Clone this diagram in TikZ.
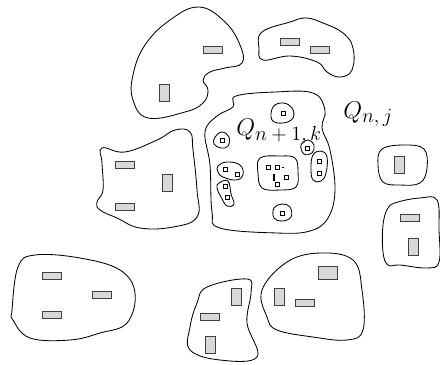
\documentclass[tikz,border=0pt]{standalone}
\usetikzlibrary{positioning}

\newcommand{\subsz}[1]{\mbox{\fontsize{14}{16}\selectfont$#1$}}

\begin{document}
\begin{tikzpicture}[
    x=0.025cm, y=-0.025cm,
    region/.style={draw=black, line width=0.6pt},
    hbar/.style={rectangle, draw=black!75, fill=black!15, line width=0.5pt, inner sep=0pt, minimum width=0.48cm, minimum height=0.18cm},
    vbar/.style={rectangle, draw=black!75, fill=black!15, line width=0.5pt, inner sep=0pt, minimum width=0.25cm, minimum height=0.42cm},
    cell/.style={rectangle, draw=black, fill=white, line width=0.45pt, inner sep=0pt, minimum size=0.1cm},
    lbl/.style={font=\fontsize{17}{20}\selectfont, inner sep=0pt, anchor=base west}
]
\useasboundingbox (0,0) rectangle (440,364);

% Top left region
\draw[region] plot[smooth cycle, tension=0.7] coordinates {(199,7) (225,22) (240,45) (242,63) (225,68) (210,72) (203,80) (208,90) (203,103) (185,112) (148,118) (133,100) (133,75) (145,45) (170,20)};
\node[hbar] (a1) at (213,50) {};
\node[vbar] (a2) at (164,93) {};

% Top right region
\draw[region] plot[smooth cycle, tension=0.7] coordinates {(262,32) (290,22) (306,18) (323,23) (343,33) (353,48) (352,70) (340,77) (327,72) (317,62) (290,56) (263,60) (259,48)};
\node[hbar] (b1) at (290,42) {};
\node[hbar] (b2) at (320,50) {};

% Left middle region
\draw[region] plot[smooth cycle, tension=0.7] coordinates {(102,148) (125,152) (157,140) (175,130) (190,132) (193,150) (197,190) (197,217) (173,227) (140,228) (117,218) (100,210) (97,202) (103,190) (102,163)};
\node[hbar] (d1) at (125,165) {};
\node[vbar] (d2) at (167,183) {};
\node[hbar] (d3) at (125,207) {};

% Central region Q_{n+1,k}
\draw[region] plot[smooth cycle, tension=0.65] coordinates {(236,96) (275,92) (313,93) (325,110) (322,128) (330,150) (335,190) (328,218) (310,231) (277,233) (220,228) (212,212) (210,165) (205,132) (217,116) (233,107)};
\node[lbl] (qk) at (236,135) {$Q_{\subsz{n+1,k}}$};
\node[lbl] (qj) at (343,118) {$Q_{\subsz{n,j}}$};

% Sub-regions
\draw[region] plot[smooth cycle, tension=0.7] coordinates {(273,107) (283,103) (292,108) (293,118) (283,123) (272,120)};
\node[cell] (c1) at (283,113) {};
\draw[region] plot[smooth cycle, tension=0.7] coordinates {(215,137) (222,132) (229,137) (228,146) (221,148) (214,144)};
\node[cell] (c2) at (222,140) {};
\draw[region] plot[smooth cycle, tension=0.7] coordinates {(301,145) (308,140) (314,145) (312,153) (304,154)};
\node[cell] (c3) at (307,148) {};
\draw[region] plot[smooth cycle, tension=0.7] coordinates {(218,166) (227,162) (240,165) (243,175) (236,180) (223,177) (218,172)};
\node[cell] (c4) at (225,169) {};
\node[cell] (c5) at (237,174) {};
\draw[region] plot[smooth cycle, tension=0.7] coordinates {(219,183) (228,181) (231,194) (234,204) (227,206) (221,197) (217,188)};
\node[cell] (c6) at (225,186) {};
\node[cell] (c7) at (227,197) {};
\draw[region] plot[smooth cycle, tension=0.7] coordinates {(313,155) (321,151) (327,157) (326,173) (321,181) (313,180) (311,168)};
\node[cell] (c8) at (319,161) {};
\node[cell] (c9) at (319,173) {};
\draw[region] plot[smooth cycle, tension=0.65] coordinates {(260,158) (280,156) (295,158) (298,172) (296,187) (280,190) (262,188) (258,173)};
\node[cell] (c10) at (268,167) {};
\node[cell] (c11) at (277,167) {};
\draw[black] (c11.east) ++(3,0) -- ++(2,0);
\node[cell] (c12) at (286,177) {};
\node[cell] (c13) at (277,184) {};
\draw[black, line width=1pt] (274,174) -- (274,181);
\draw[region] plot[smooth cycle, tension=0.7] coordinates {(274,208) (282,204) (290,207) (291,217) (282,221) (274,218)};
\node[cell] (c14) at (282,213) {};

% Right small region
\draw[region] plot[smooth cycle, tension=0.65] coordinates {(382,149) (405,145) (424,149) (427,168) (420,183) (400,185) (383,182) (378,165)};
\node[vbar] (e1) at (399,165) {};

% Right lower region
\draw[region] plot[smooth cycle, tension=0.65] coordinates {(388,208) (398,202) (420,198) (437,200) (439,230) (439,262) (427,268) (400,265) (388,265) (383,252) (383,225)};
\node[hbar] (f1) at (410,218) {};
\node[vbar] (f2) at (413,247) {};

% Bottom left region
\draw[region] plot[smooth cycle, tension=0.65] coordinates {(35,255) (80,258) (120,270) (135,293) (127,323) (100,333) (70,340) (30,338) (13,320) (12,310) (18,267)};
\node[hbar] (g1) at (52,276) {};
\node[hbar] (g2) at (102,295) {};
\node[hbar] (g3) at (52,315) {};

% Bottom middle region
\draw[region] plot[smooth cycle, tension=0.65] coordinates {(207,287) (247,279) (251,293) (247,323) (257,357) (220,360) (190,350) (190,327) (197,303)};
\node[vbar] (h1) at (236,297) {};
\node[hbar] (h2) at (210,317) {};
\node[vbar] (h3) at (210,345) {};

% Bottom right region
\draw[region] plot[smooth cycle, tension=0.65] coordinates {(262,290) (287,262) (320,253) (353,260) (362,290) (363,330) (347,340) (313,337) (277,330) (267,317)};
\node[vbar] (i1) at (279,297) {};
\node[hbar] (i2) at (305,303) {};
\node[hbar, minimum height=0.32cm] (i3) at (328,273) {};

\end{tikzpicture}
\end{document}
